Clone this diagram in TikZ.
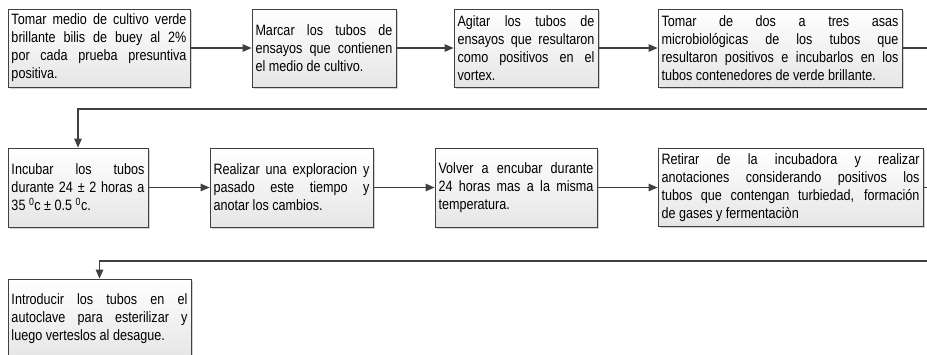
\documentclass[tikz,border=0pt]{standalone}
\usepackage{fontspec}
\setmainfont{Liberation Sans}[FakeStretch=0.84]
\usepackage{tikz}
\usetikzlibrary{positioning, shadows, arrows.meta, calc}

\tolerance=10000
\hbadness=10000
\hyphenpenalty=10000

\begin{document}
\begin{tikzpicture}[x=1pt, y=-1pt,
			stepbox/.style={rectangle, draw=black!75, line width=0.8pt, top color=white, bottom color=black!10,
				drop shadow={shadow xshift=1.5pt, shadow yshift=-1.5pt, fill=black!30, opacity=0.6},
				inner sep=3.5pt, align=justify, font=\fontsize{15}{18}\selectfont},
			flow/.style={-{Triangle[length=9pt, width=7.5pt]}, line width=1.1pt, draw=black!75}
			]
			\useasboundingbox (0,0) rectangle (927,354);
			
			% First row
			\node[stepbox, minimum width=182pt, minimum height=78pt, text width=175pt] (b1) at (99,48)
				{Tomar medio de cultivo verde\linebreak brillante bilis de buey al 2\%\linebreak por cada prueba presuntiva\linebreak positiva.};
			\node[stepbox, minimum width=144pt, minimum height=78pt, text width=137pt] (b2) at (324,48)
				{Marcar los tubos de\linebreak ensayos que contienen\linebreak el medio de cultivo.};
			\node[stepbox, minimum width=144pt, minimum height=78pt, text width=137pt] (b3) at (526,48)
				{Agitar los tubos de\linebreak ensayos que resultaron\linebreak como positivos en el\linebreak vortex.};
			\node[stepbox, minimum width=244pt, minimum height=78pt, text width=237pt] (b4) at (780,48)
				{Tomar de dos a tres asas\linebreak microbiológicas de los tubos que\linebreak resultaron positivos e incubarlos en los\linebreak tubos contenedores de verde brillante.};
			
			% Second row
			\node[stepbox, minimum width=140pt, minimum height=79pt, text width=133pt] (b5) at (78,187.5)
				{Incubar los tubos\linebreak durante 24 ± 2 horas a\linebreak 35 \textsuperscript{0}c ± 0.5 \textsuperscript{0}c.};
			\node[stepbox, minimum width=163pt, minimum height=79pt, text width=156pt] (b6) at (291.5,187.5)
				{Realizar una exploracion y\linebreak pasado este tiempo y\linebreak anotar los cambios.};
			\node[stepbox, minimum width=162pt, minimum height=79pt, text width=155pt] (b7) at (516,187.5)
				{Volver a encubar durante\linebreak 24 horas mas a la misma\linebreak temperatura.};
			\node[stepbox, minimum width=265pt, minimum height=78pt, text width=258pt] (b8) at (790.5,187.5)
				{Retirar de la incubadora y realizar\linebreak anotaciones considerando positivos los\linebreak tubos que contengan turbiedad, formación\linebreak de gases y fermentaciòn};
			
			% Third row
			\node[stepbox, minimum width=183pt, minimum height=79pt, text width=176pt] (b9) at (99.5,318.5)
				{Introducir los tubos en el\linebreak autoclave para esterilizar y\linebreak luego verteslos al desague.};
			
			% Turning points outside the page
			\coordinate (r1) at (945,109);
			\coordinate (r2) at (945,261);
			
			\draw[flow] (b1) -- (b2);
			\draw[flow] (b2) -- (b3);
			\draw[flow] (b3) -- (b4);
			\draw[flow] (b4.east) -| (r1) -| (b5.north);
			\draw[flow] (b5) -- (b6);
			\draw[flow] (b6) -- (b7);
			\draw[flow] (b7) -- (b8);
			\draw[flow] (b8.east) -| (r2) -| (b9.north);
		\end{tikzpicture}
\end{document}
